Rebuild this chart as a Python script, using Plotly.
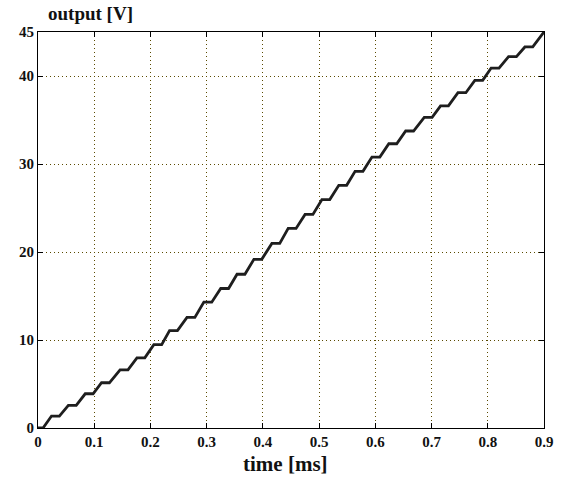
import plotly.graph_objects as go

levels = [0.0, 1.36, 2.57, 3.89, 5.14, 6.61, 7.97, 9.47, 11.06, 12.56, 14.30,
          15.85, 17.47, 19.17, 20.98, 22.68, 24.27, 25.96, 27.58, 29.17, 30.79,
          32.30, 33.75, 35.30, 36.60, 38.10, 39.50, 40.90, 42.20, 43.30]
flat_start = [0.000, 0.024, 0.054, 0.084, 0.113, 0.146, 0.176, 0.206, 0.234, 0.265,
              0.295, 0.325, 0.354, 0.384, 0.416, 0.445, 0.475, 0.505, 0.535, 0.564,
              0.594, 0.624, 0.654, 0.687, 0.716, 0.747, 0.777, 0.806, 0.837, 0.866]
flat_end = [0.009, 0.038, 0.068, 0.098, 0.127, 0.160, 0.190, 0.220, 0.248, 0.279,
            0.309, 0.339, 0.368, 0.398, 0.430, 0.459, 0.489, 0.519, 0.549, 0.578,
            0.608, 0.638, 0.668, 0.701, 0.730, 0.761, 0.791, 0.820, 0.851, 0.880]
end_time = 0.9
end_level = 45.0

x_ticks = [0, 0.1, 0.2, 0.3, 0.4, 0.5, 0.6, 0.7, 0.8, 0.9]
x_tick_labels = ["0", "0.1", "0.2", "0.3", "0.4", "0.5", "0.6", "0.7", "0.8", "0.9"]
y_ticks = [0, 10, 20, 30, 40, 45]
y_tick_labels = ["0", "10", "20", "30", "40", "45"]

xs, ys = [], []
for s, e, v in zip(flat_start, flat_end, levels):
    xs += [s, e]
    ys += [v, v]
xs.append(end_time)
ys.append(end_level)

FONT = "Liberation Serif"
GRID = "#5a4a00"

fig = go.Figure()
fig.add_trace(go.Scatter(x=xs, y=ys, mode="lines",
                         line=dict(color="#1e1e1e", width=2.8),
                         hoverinfo="skip", showlegend=False))

axis_common = dict(
    showline=True, linecolor="black", linewidth=1.2, mirror="allticks",
    ticks="inside", ticklen=5, tickcolor="black", tickwidth=1,
    showgrid=True, gridcolor=GRID, griddash="1px,3px", gridwidth=1,
    zeroline=False, automargin=False,
    tickfont=dict(family=FONT, size=15, color="#111111"),
)

fig.update_xaxes(range=[0, 0.9], tickvals=x_ticks, ticktext=[f"<b>{t}</b>" for t in x_tick_labels],
                 **axis_common)
fig.update_yaxes(range=[0, 45], tickvals=y_ticks, ticktext=[f"<b>{t}</b>" for t in y_tick_labels],
                 **axis_common)

fig.add_annotation(text="<b>output [V]</b>", xref="paper", yref="paper",
                   x=0.016, y=1.046, xanchor="left", yanchor="middle", showarrow=False,
                   font=dict(family=FONT, size=19, color="#111111"))
fig.add_annotation(text="<b>time [ms]</b>", xref="paper", yref="paper",
                   x=0.489, y=-0.092, xanchor="center", yanchor="middle", showarrow=False,
                   font=dict(family=FONT, size=21, color="#111111"))

fig.update_layout(
    width=562, height=479,
    margin=dict(l=38, r=18, t=32, b=51),
    paper_bgcolor="white", plot_bgcolor="white",
)

# remove the page's default body margin so the figure fills the window exactly
fig.write_html("out.html", config={"displayModeBar": False},
               post_script="document.body.style.margin='0';")
